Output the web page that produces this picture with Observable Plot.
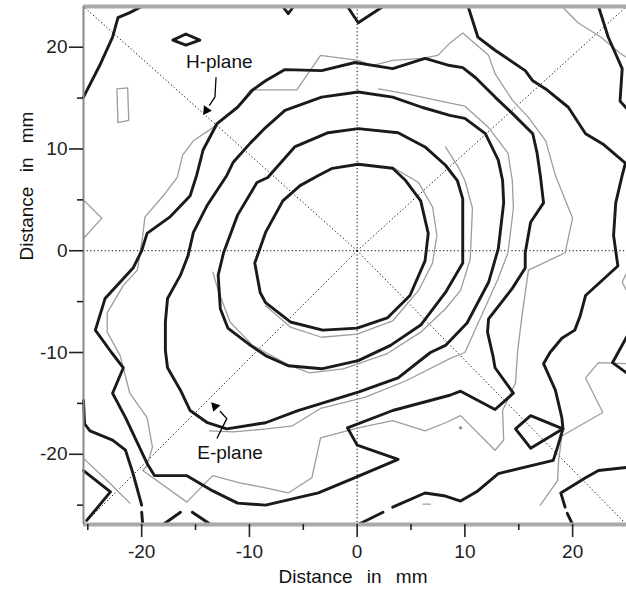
<!DOCTYPE html>
<html>
<head>
<meta charset="utf-8">
<script src="https://cdn.jsdelivr.net/npm/d3@7"></script>
<script src="https://cdn.jsdelivr.net/npm/@observablehq/plot@0.6"></script>
<style>
  html, body { margin: 0; padding: 0; background: #fff; }
</style>
</head>
<body>
<div id="chart"></div>
<script>
// ---- axis ranges and ticks (mm) ----
const xDomain = [-25.4, 25.0];
const yDomain = [-26.9, 24.0];
const xMajor = [-20, -10, 0, 10, 20];
const xMinor = [-25, -15, -5, 5, 15];
const yMajor = [-20, -10, 0, 10, 20];
const yMinor = [-25, -15, -5, 5, 15];

// ---- thick (black) contours, [x mm, y mm] ----
const contour1 = [[-6.9,4.9],[-5.3,6.4],[-3.6,7.4],[-2.3,8.1],[0.1,8.5],[3.3,8.1],[4.5,6.9],[5.9,4.9],[6.6,1.7],[6.3,-1.0],[4.9,-4.4],[2.8,-6.6],[0,-7.6],[-3.2,-7.8],[-6.2,-7.0],[-8.5,-5.1],[-9.0,-4.1],[-9.5,-1.2],[-8.5,1.8],[-6.9,4.9]];
const contour2 = [[-8.3,7.2],[-5.8,10.2],[-2.7,11.6],[0.1,12.0],[3.8,11.6],[6.3,10.2],[8.2,8.4],[9.3,6.9],[9.8,5.1],[9.8,-1.2],[8.2,-4.1],[5.9,-7.3],[3.1,-9.3],[0.1,-10.8],[-3.3,-11.6],[-6.4,-11.3],[-8.5,-10.3],[-9.9,-9.3],[-12.0,-7.6],[-12.7,-5.7],[-12.9,-2.4],[-12.4,-0.2],[-11.1,3.5],[-9.3,6.7],[-8.3,7.2]];
const contour3 = [[-8.5,12.1],[-6.7,13.8],[-3.3,15.1],[0.1,15.6],[3.3,15.1],[6.0,14.1],[8.6,13.3],[10.0,13.0],[11.9,11.5],[13.1,8.9],[13.5,6.9],[13.6,4.7],[13.1,0.2],[12.2,-3.1],[10.2,-7.1],[8.2,-9.3],[6.8,-10.0],[3.8,-12.5],[0.1,-13.9],[-5.5,-15.7],[-8.5,-16.9],[-12.1,-17.5],[-13.9,-16.9],[-15.5,-15.7],[-16.4,-13.7],[-17.6,-11.5],[-17.8,-9.8],[-17.8,-7.0],[-17.6,-4.7],[-16.4,-2.4],[-15.7,-0.5],[-15.2,1.8],[-13.9,4.5],[-12.1,7.4],[-11.5,8.7],[-9.9,10.6],[-8.5,12.1]];
const contour4 = [[-8.5,16.7],[-6.7,17.8],[-3.3,17.7],[-0.2,18.5],[3.3,17.9],[6.3,18.9],[8.6,18.2],[9.8,18.0],[11.0,17.0],[12.8,15.1],[14.4,13.5],[16.3,11.5],[16.7,9.6],[17.0,7.4],[17.3,4.7],[16.1,2.8],[15.6,-0.2],[15.6,-1.7],[14.4,-3.7],[12.2,-6.7],[12.1,-8.0],[12.6,-10.3],[12.8,-11.5],[14.5,-14.0],[12.8,-15.6],[9.6,-13.8],[8.6,-14.2],[3.3,-15.7],[-0.9,-17.4],[0,-19.1],[3.8,-20.5],[-0.2,-22.3],[-3.6,-23.8],[-8.5,-25.0],[-11.1,-24.8],[-13.4,-23.6],[-15.8,-22.1],[-18.8,-22.1],[-19.5,-20.9],[-21.5,-16.4],[-22.7,-14.0],[-21.7,-11.5],[-22.8,-10.0],[-24.3,-7.8],[-23.4,-4.7],[-20.8,-1.7],[-20.0,0.0],[-19.5,1.7],[-17.4,3.3],[-15.5,5.4],[-14.9,7.4],[-14.3,9.9],[-13.0,12.5],[-11.1,14.1],[-9.7,15.8],[-8.5,16.7]];
const contour5 = [[10.3,24.0],[11.2,21.0],[12.8,19.7],[15.6,17.7],[16.3,16.7],[17.5,15.9],[19.6,14.1],[21.2,11.5],[22.8,10.5],[24.9,8.6],[24.6,7.4],[24.0,4.7],[23.8,1.5],[24.2,-1.5],[21.2,-4.4],[20.7,-6.4],[20.2,-7.8],[19.0,-8.6],[17.9,-10.0],[17.3,-11.1],[18.4,-13.7],[19.0,-16.4],[19.1,-17.5],[18.6,-19.3],[18.2,-20.6],[13.1,-21.9],[11.2,-23.6],[9.6,-24.6],[8.2,-24.1],[6.3,-23.8],[3.3,-25.2]];
const contour5b = [[2.4,-25.7],[0.1,-26.9]];
const diamondRight = [[14.7,-17.5],[16.1,-16.2],[19.1,-17.5],[16.1,-19.4],[14.7,-17.5]];
const bottomRightA = [[25.0,-21.3],[22.4,-21.6],[21.2,-22.3],[18.9,-23.8],[19.3,-25.2]];
const bottomRightB = [[19.5,-25.8],[20.0,-26.9]];
const rightNotch = [[25.0,-8.5],[23.7,-11.0],[25.0,-12.0]];
const topRight = [[22.4,24.0],[23.3,21.0],[24.6,17.9],[24.4,14.7],[25.0,14.0]];
const topLeft = [[-25.4,15.1],[-23.9,18.2],[-22.7,21.0],[-22.2,22.9],[-21.1,23.4],[-20.0,24.0]];
const topNotchA = [[-6.9,24.0],[-6.4,23.3],[-5.9,24.0]];
const topNotchB = [[-0.9,24.0],[0.1,22.4],[2.4,24.0]];
const diamondLeft = [[-17.1,20.7],[-15.9,21.3],[-14.6,20.7],[-15.9,20.2],[-17.1,20.7]];
const bottomLeftA = [[-25.4,-14.7],[-25.3,-17.0],[-24.8,-17.7],[-22.7,-18.6],[-21.5,-19.6],[-20.8,-21.9],[-20.0,-25.0]];
const bottomLeftB = [[-20.0,-25.7],[-19.9,-26.9]];
const bottomLeftC = [[-25.4,-21.6],[-22.9,-23.7],[-25.1,-26.5]];
const bottomLeftD = [[-18.0,-26.9],[-16.4,-25.7]];
const bottomLeftE = [[-15.3,-25.7],[-13.6,-26.9]];

// ---- thin (grey) contours ----
const grey1 = [[-9.9,15.8],[-5.6,15.8],[-3.4,19.2],[0.1,18.7],[1.4,18.2],[3.3,18.7],[6.0,18.9],[7.5,19.2],[8.6,20.4],[9.8,21.4],[12.2,19.2],[12.8,17.4],[14.4,14.8],[15.9,13.1],[17.5,10.8],[18.4,7.4],[20.0,3.2],[19.3,-0.2],[15.9,-1.9],[15.3,-6.4],[14.9,-9.8],[14.7,-13.0],[13.5,-15.7],[13.6,-18.6],[12.8,-19.6],[9.6,-16.2],[8.2,-16.9],[6.3,-17.7],[3.3,-16.7],[0.1,-17.4],[-3.4,-18.4],[-4.2,-22.3],[-6.4,-23.8],[-8.5,-23.3],[-10.9,-22.8],[-13.4,-22.1],[-14.8,-23.6],[-15.8,-24.7],[-19.9,-21.6],[-19.5,-21.1],[-19.0,-19.3],[-19.5,-16.4],[-21.1,-14.0],[-22.0,-10.3],[-23.2,-8.0],[-23.2,-6.1],[-21.7,-3.4],[-20.4,-1.9],[-19.9,1.5],[-19.7,3.3],[-18.0,5.4],[-16.7,7.2],[-16.2,9.4],[-15.2,10.8],[-13.8,11.8],[-13.4,12.1],[-11.1,14.1],[-9.9,15.8]];
const grey2 = [[3.3,8.2],[5.7,6.7],[7.0,4.3],[7.4,1.5],[7.0,-1.2],[5.7,-3.9],[3.3,-6.9],[0,-8.2],[-3.3,-8.5],[-6.2,-7.5],[-8.5,-5.4]];
const grey3 = [[8.2,10.2],[9.4,8.2],[10.0,6.9],[10.7,4.2],[10.5,-0.8],[9.6,-3.9],[8.2,-5.7],[5.9,-8.0],[2.8,-10.1],[-1.3,-11.6],[-4.4,-12.0],[-6.2,-11.3],[-9.7,-9.3],[-11.8,-7.0],[-12.9,-3.9],[-13.4,-2.1]];
const grey4 = [[2.0,15.9],[4.7,15.4],[8.2,14.6],[10.0,14.2],[12.2,12.1],[14.0,9.6],[14.4,6.9],[14.5,4.2],[14.0,-0.2],[13.1,-2.7],[10.0,-10.0],[8.6,-10.6],[4.5,-12.8],[0.7,-14.4],[-3.4,-15.5],[-6.0,-17.2],[-8.4,-17.5],[-11.5,-17.8],[-13.7,-17.7]];
const greyBottomLeft = [[-25.4,-20.4],[-22.9,-22.9],[-21.1,-24.8]];
const greyLeftEdge = [[-25.4,5.0],[-23.7,3.2],[-25.4,1.2]];
const greyBox = [[-22.3,15.9],[-21.3,16.0],[-21.2,12.8],[-22.2,12.6],[-22.3,15.9]];
const greyRightA = [[25.0,-11.1],[22.4,-11.0],[21.2,-12.5],[22.8,-15.9],[19.0,-18.2]];
const greyRightB = [[19.0,-18.2],[18.7,-20.6],[18.6,-22.6],[17.0,-25.0]];
const greyRightEdge = [[25.0,-2.2],[24.6,-3.1],[25.0,-3.9]];
const greyTopRight = [[19.0,24.0],[20.5,22.4],[22.6,21.0],[24.4,19.4],[25.0,19.0]];
const greyDash = [[6.1,-24.9],[6.8,-24.9]];
const greyDot = [[9.6,-17.4]];

// ---- annotations ----
const labels = [
  {x: -12.8, y: 18.6, text: "H-plane"},
  {x: -11.8, y: -19.9, text: "E-plane"}
];
const hArrow = [[-13.1,17.0],[-13.2,15.1],[-13.7,14.3]];
const eArrow = [[-13.0,-18.4],[-12.1,-16.5],[-12.7,-15.8]];
const arrowHeads = [
  {x: -14.0, y: 13.8, angle: -146},
  {x: -13.2, y: -15.3, angle: -43}
];

const corners = [[xDomain[0], yDomain[1]], [xDomain[1], yDomain[1]], [xDomain[0], yDomain[0]], [xDomain[1], yDomain[0]]];

const thick = [contour1, contour2, contour3, contour4, contour5, contour5b, diamondRight, bottomRightA, bottomRightB, rightNotch, topRight, topLeft, topNotchA, topNotchB, diamondLeft, bottomLeftA, bottomLeftB, bottomLeftC, bottomLeftD, bottomLeftE];
const thin = [grey1, grey2, grey3, grey4, greyBottomLeft, greyLeftEdge, greyBox, greyRightA, greyRightB, greyRightEdge, greyTopRight, greyDash];

const fmt = d => String(d);

const chart = Plot.plot({
  width: 626,
  height: 590,
  marginLeft: 83,
  marginRight: 0,
  marginTop: 6,
  marginBottom: 66,
  x: {domain: xDomain},
  y: {domain: yDomain},
  style: {
    fontFamily: "'Liberation Sans', Arial, Helvetica, sans-serif",
    fontSize: "19px",
    color: "#222",
    background: "#fff",
    wordSpacing: "9px"
  },
  marks: [
    // dotted guide lines
    Plot.ruleY([0], {stroke: "#000", strokeWidth: 1, strokeDasharray: "1.2,2.4"}),
    Plot.ruleX([0], {stroke: "#000", strokeWidth: 1, strokeDasharray: "1.2,2.4"}),
    Plot.link(corners, {x1: 0, y1: 0, x2: d => d[0], y2: d => d[1], stroke: "#000", strokeWidth: 1, strokeDasharray: "1.2,2.4"}),
    // grey contours
    ...thin.map(g => Plot.line(g, {stroke: "#9d9d9d", strokeWidth: 1.3, strokeLinejoin: "round"})),
    Plot.dot(greyDot, {r: 1.6, fill: "#888", stroke: null}),
    // thick contours
    ...thick.map(c => Plot.line(c, {stroke: "#1a1a1a", strokeWidth: 2.9, strokeLinejoin: "round", strokeLinecap: "round"})),
    // frame
    Plot.ruleY([yDomain[1]], {stroke: "#aaa", strokeWidth: 4}),
    Plot.ruleY([yDomain[0]], {stroke: "#aaa", strokeWidth: 4}),
    Plot.ruleX([xDomain[0]], {stroke: "#888", strokeWidth: 2}),
    // axes
    Plot.axisX(xMajor, {tickSize: 13, tickPadding: 7, tickFormat: fmt, label: null, strokeWidth: 1.6, fontSize: 19}),
    Plot.axisX(xMinor, {tickSize: 6, tickFormat: () => "", label: null, strokeWidth: 1.6}),
    Plot.axisY(yMajor, {tickSize: 14, tickPadding: 2, tickFormat: fmt, label: null, strokeWidth: 1.6, fontSize: 19}),
    Plot.axisY(yMinor, {tickSize: 6, tickFormat: () => "", label: null, strokeWidth: 1.6}),
    // axis titles
    Plot.text(["Distance in mm"], {frameAnchor: "bottom", dy: 52, dx: -2, lineAnchor: "middle", fontSize: 19, fill: "#111"}),
    Plot.text(["Distance in mm"], {frameAnchor: "left", rotate: -90, dx: -57, dy: -5, lineAnchor: "middle", fontSize: 19, fill: "#111"}),
    // annotations
    Plot.text(labels, {x: "x", y: "y", text: "text", lineAnchor: "middle", fontSize: 19, fill: "#111"}),
    Plot.line(hArrow, {stroke: "#000", strokeWidth: 1.3}),
    Plot.line(eArrow, {stroke: "#000", strokeWidth: 1.3}),
    Plot.dot(arrowHeads, {x: "x", y: "y", symbol: "triangle", rotate: "angle", r: 3.6, fill: "#000", stroke: null})
  ]
});

document.getElementById("chart").append(chart);
</script>
</body>
</html>
